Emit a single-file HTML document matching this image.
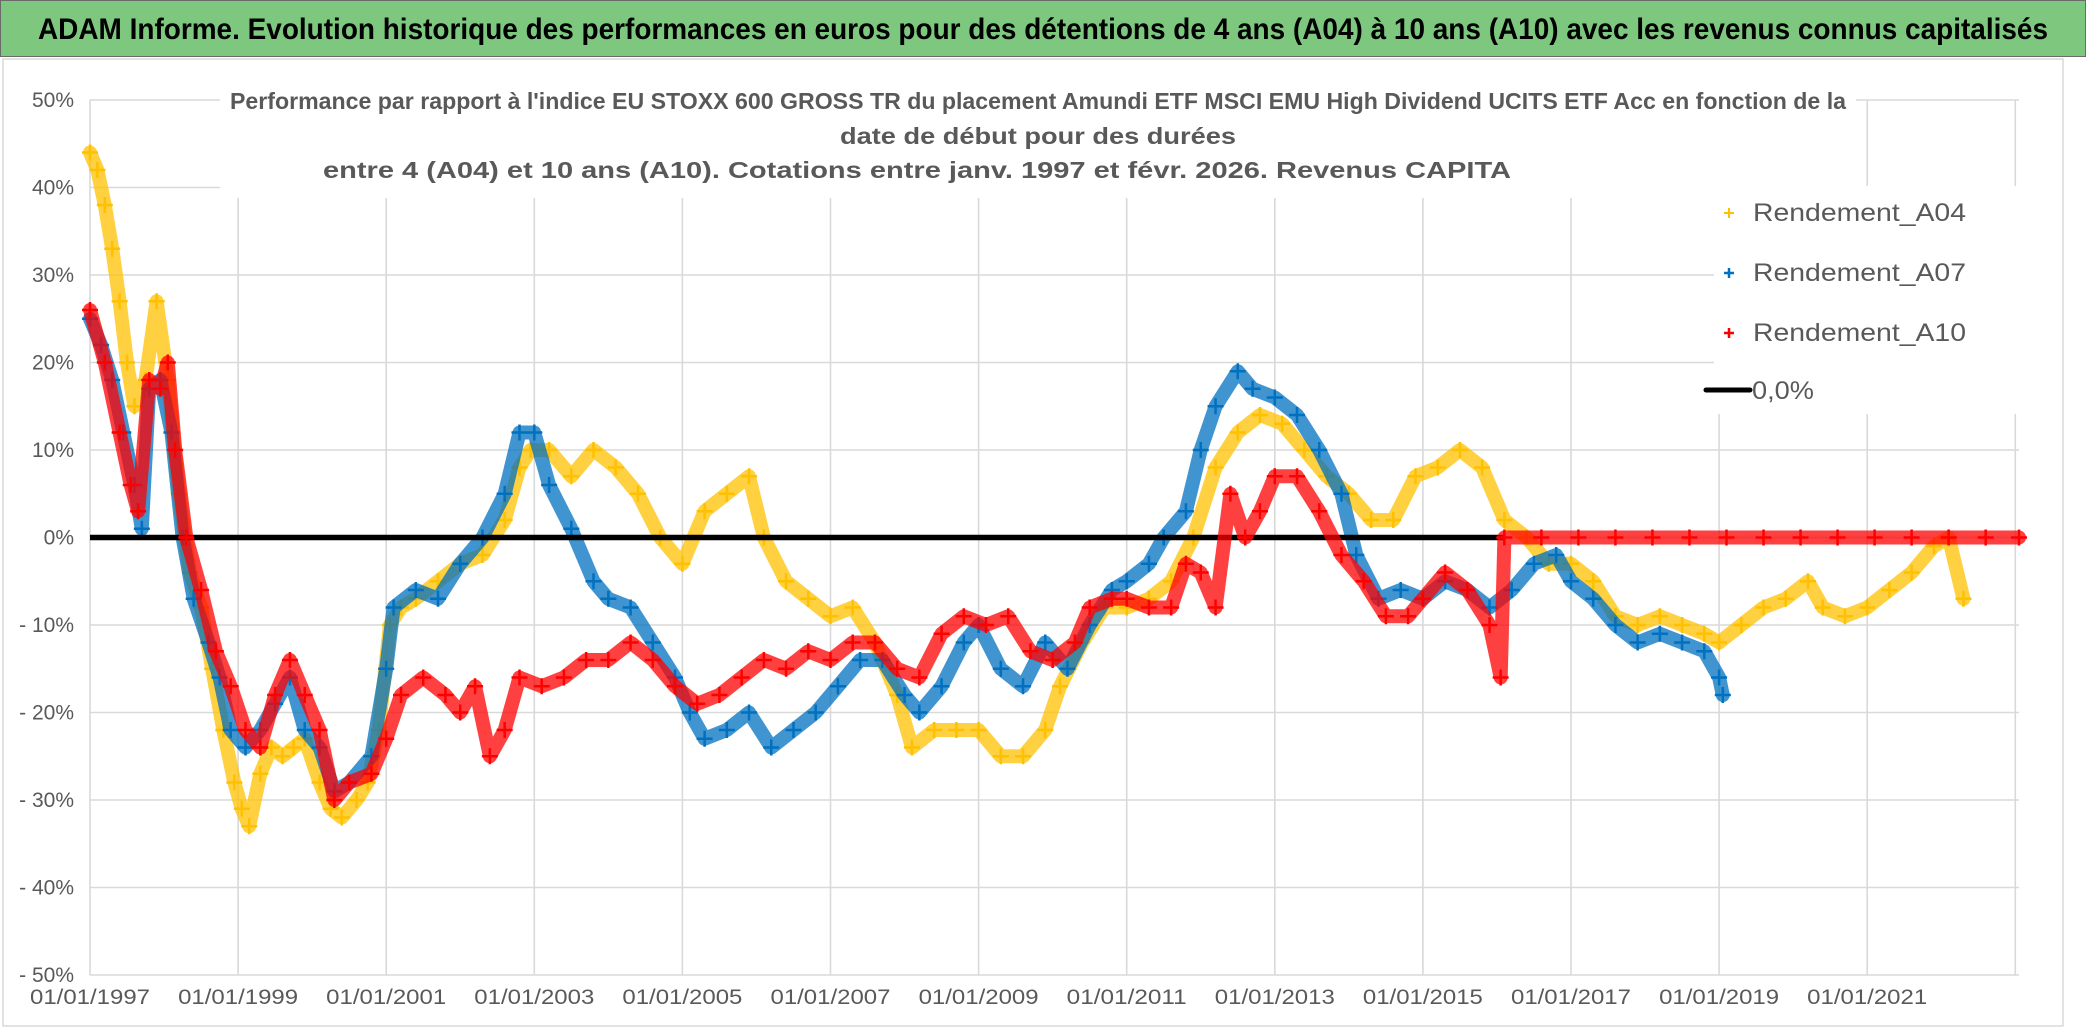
<!DOCTYPE html>
<html><head><meta charset="utf-8"><style>
html,body{margin:0;padding:0;background:#fff;}
svg{display:block;font-family:"Liberation Sans",sans-serif;}
</style></head><body>
<svg id="chart" width="2086" height="1031" viewBox="0 0 2086 1031">
<rect x="0" y="0" width="2086" height="1031" fill="#fff"/>
<rect x="0.5" y="0.5" width="2085" height="56" fill="#7DC87E" stroke="#6a6a6a" stroke-width="1"/>
<text x="1043" y="39" text-anchor="middle" font-size="30" font-weight="bold" fill="#000" textLength="2010" lengthAdjust="spacingAndGlyphs">ADAM Informe. Evolution historique des performances en euros pour des détentions de 4 ans (A04) à 10 ans (A10) avec les revenus connus capitalisés</text>
<rect x="3" y="59" width="2060" height="967" fill="none" stroke="#d9d9d9" stroke-width="1.5"/>
<g id="grid"></g>
<g id="yaxis"></g>
<g id="xaxis"></g>
<g id="series"></g>
<rect x="220" y="78" width="1636" height="120" fill="#fff"/>
<g fill="#595959" font-size="23" font-weight="bold" text-anchor="middle">
<text x="1038" y="109" textLength="1616" lengthAdjust="spacingAndGlyphs">Performance par rapport à l'indice EU STOXX 600 GROSS TR  du placement Amundi ETF MSCI EMU High Dividend UCITS ETF Acc en fonction de la</text>
<text x="1038" y="144" textLength="396" lengthAdjust="spacingAndGlyphs">date de début pour des durées</text>
<text x="917" y="178" textLength="1188" lengthAdjust="spacingAndGlyphs">entre 4 (A04) et 10 ans (A10). Cotations entre janv. 1997 et févr. 2026. Revenus CAPITA</text>
</g>
<g>
<rect x="1714" y="186" width="310" height="228" fill="#fff"/>
<g><path d="M1724 213h10M1729 208v10" stroke="#FFC000" stroke-width="2"/><text x="1753" y="221" font-size="25" fill="#595959" textLength="213" lengthAdjust="spacingAndGlyphs">Rendement_A04</text></g>
<g><path d="M1724 273h10M1729 268v10" stroke="#0070C0" stroke-width="2.5"/><text x="1753" y="281" font-size="25" fill="#595959" textLength="213" lengthAdjust="spacingAndGlyphs">Rendement_A07</text></g>
<g><path d="M1724 333h10M1729 328v10" stroke="#FF0000" stroke-width="2.5"/><text x="1753" y="341" font-size="25" fill="#595959" textLength="213" lengthAdjust="spacingAndGlyphs">Rendement_A10</text></g>
<g><path d="M1706 390h44" stroke="#000" stroke-width="5" stroke-linecap="round"/><text x="1752" y="399" font-size="25" fill="#595959" textLength="62" lengthAdjust="spacingAndGlyphs">0,0%</text></g>
</g>
</svg>
<script>
const yTicks=[50,40,30,20,10,0,-10,-20,-30,-40,-50];
const yTickLabels=["50%","40%","30%","20%","10%","0%","- 10%","- 20%","- 30%","- 40%","- 50%"];
const xTicks=[1997,1999,2001,2003,2005,2007,2009,2011,2013,2015,2017,2019,2021,2023];
const xTickLabels=["01/01/1997","01/01/1999","01/01/2001","01/01/2003","01/01/2005","01/01/2007","01/01/2009","01/01/2011","01/01/2013","01/01/2015","01/01/2017","01/01/2019","01/01/2021",""];
const a04Dates=[1997.0,1997.1,1997.2,1997.3,1997.4,1997.5,1997.6,1997.75,1997.9,1998.05,1998.2,1998.35,1998.5,1998.65,1998.8,1998.95,1999.05,1999.15,1999.3,1999.45,1999.6,1999.75,1999.9,2000.1,2000.25,2000.4,2000.6,2000.75,2000.9,2001.05,2001.2,2001.4,2001.7,2002.0,2002.3,2002.6,2002.8,2002.95,2003.2,2003.5,2003.8,2004.1,2004.4,2004.7,2005.0,2005.3,2005.6,2005.9,2006.1,2006.4,2006.7,2007.0,2007.3,2007.6,2007.9,2008.1,2008.4,2008.7,2009.0,2009.3,2009.6,2009.9,2010.1,2010.4,2010.7,2011.0,2011.3,2011.6,2011.9,2012.2,2012.5,2012.8,2013.1,2013.4,2013.7,2014.0,2014.3,2014.6,2014.9,2015.2,2015.5,2015.8,2016.1,2016.4,2016.7,2017.0,2017.3,2017.6,2017.9,2018.2,2018.5,2018.8,2019.0,2019.3,2019.6,2019.9,2020.2,2020.4,2020.7,2021.0,2021.3,2021.6,2021.9,2022.1,2022.3];
const a04Vals=[44,42,38,33,27,20,15,18,27,18,5,-4,-8,-15,-22,-28,-31,-33,-27,-24,-25,-24,-23,-28,-31,-32,-30,-28,-22,-10,-8,-7,-5,-3,-2,2,8,10,10,7,10,8,5,0,-3,3,5,7,0,-5,-7,-9,-8,-12,-18,-24,-22,-22,-22,-25,-25,-22,-17,-12,-8,-8,-7,-5,0,8,12,14,13,10,7,5,2,2,7,8,10,8,2,0,-3,-3,-5,-9,-10,-9,-10,-11,-12,-10,-8,-7,-5,-8,-9,-8,-6,-4,-1,0,-7];
const a07Dates=[1997.0,1997.15,1997.3,1997.45,1997.6,1997.7,1997.8,1997.95,1998.1,1998.25,1998.4,1998.6,1998.75,1998.9,1999.1,1999.3,1999.5,1999.7,1999.9,2000.1,2000.3,2000.5,2000.8,2001.0,2001.1,2001.4,2001.7,2002.0,2002.3,2002.6,2002.8,2003.0,2003.2,2003.5,2003.8,2004.0,2004.3,2004.6,2004.9,2005.1,2005.3,2005.6,2005.9,2006.2,2006.5,2006.8,2007.1,2007.4,2007.7,2008.0,2008.2,2008.5,2008.8,2009.0,2009.3,2009.6,2009.9,2010.2,2010.5,2010.8,2011.0,2011.3,2011.5,2011.8,2012.0,2012.2,2012.5,2012.7,2013.0,2013.3,2013.6,2013.9,2014.1,2014.4,2014.7,2015.0,2015.3,2015.6,2015.9,2016.2,2016.5,2016.8,2017.0,2017.3,2017.6,2017.9,2018.2,2018.5,2018.8,2019.0,2019.05];
const a07Vals=[25,22,18,12,6,1,17,18,12,0,-7,-12,-16,-22,-24,-22,-19,-16,-22,-24,-29,-28,-25,-15,-8,-6,-7,-3,0,5,12,12,6,1,-5,-7,-8,-12,-16,-20,-23,-22,-20,-24,-22,-20,-17,-14,-14,-18,-20,-17,-12,-10,-15,-17,-12,-15,-10,-6,-5,-3,0,3,10,15,19,17,16,14,10,5,-2,-7,-6,-7,-5,-6,-8,-6,-3,-2,-5,-7,-10,-12,-11,-12,-13,-16,-18];
const a10Dates=[1997.0,1997.2,1997.4,1997.55,1997.65,1997.8,1997.95,1998.05,1998.15,1998.3,1998.5,1998.7,1998.9,1999.1,1999.3,1999.5,1999.7,1999.9,2000.1,2000.3,2000.5,2000.8,2001.0,2001.2,2001.5,2001.8,2002.0,2002.2,2002.4,2002.6,2002.8,2003.1,2003.4,2003.7,2004.0,2004.3,2004.6,2004.9,2005.2,2005.5,2005.8,2006.1,2006.4,2006.7,2007.0,2007.3,2007.6,2007.9,2008.2,2008.5,2008.8,2009.1,2009.4,2009.7,2010.0,2010.3,2010.5,2010.8,2011.0,2011.3,2011.6,2011.8,2012.0,2012.2,2012.4,2012.6,2012.8,2013.0,2013.3,2013.6,2013.9,2014.2,2014.5,2014.8,2015.0,2015.3,2015.6,2015.9,2016.05,2016.1,2016.6,2017.1,2017.6,2018.1,2018.6,2019.1,2019.6,2020.1,2020.6,2021.1,2021.6,2022.1,2022.6,2023.05];
const a10Vals=[26,20,12,6,3,18,17,20,10,0,-6,-13,-17,-22,-24,-18,-14,-18,-22,-30,-28,-27,-23,-18,-16,-18,-20,-17,-25,-22,-16,-17,-16,-14,-14,-12,-14,-17,-19,-18,-16,-14,-15,-13,-14,-12,-12,-15,-16,-11,-9,-10,-9,-13,-14,-12,-8,-7,-7,-8,-8,-3,-4,-8,5,0,3,7,7,3,-2,-5,-9,-9,-7,-4,-6,-10,-16,0,0,0,0,0,0,0,0,0,0,0,0,0,0,0];
const zeroDates=[1997.0,2016.1];
const zeroVals=[0,0];

const X0=90,X1=2019,XMIN=1997,XMAX=2023.05,Y0=100,Y1=975,VMAX=50,VMIN=-50;
const NS="http://www.w3.org/2000/svg";
function xs(t){return X0+(t-XMIN)/(XMAX-XMIN)*(X1-X0);}
function ys(v){return Y0+(VMAX-v)/(VMAX-VMIN)*(Y1-Y0);}
function mk(tag,attrs,parent){const e=document.createElementNS(NS,tag);for(const k in attrs)e.setAttribute(k,attrs[k]);parent.appendChild(e);return e;}
const grid=document.getElementById('grid'),yax=document.getElementById('yaxis'),xax=document.getElementById('xaxis'),ser=document.getElementById('series');
yTicks.forEach((v,i)=>{
  const l=mk('line',{x1:X0,x2:X1,y1:ys(v),y2:ys(v),stroke:'#d9d9d9','stroke-width':1.6},grid);
  
  
  const t=mk('text',{x:74,y:ys(v)+7,'text-anchor':'end','font-size':21,fill:'#595959'},yax);
  
  
  t.textContent=yTickLabels[i];
});
xTicks.forEach((t0,i)=>{
  const l=mk('line',{x1:xs(t0),x2:xs(t0),y1:Y0,y2:Y1,stroke:'#d9d9d9','stroke-width':1.6},grid);
  
  
  const t=mk('text',{x:xs(t0),y:1004,'text-anchor':'middle','font-size':21,fill:'#595959',textLength:120,lengthAdjust:'spacingAndGlyphs'},xax);
  
  
  t.textContent=xTickLabels[i];
});
function drawSeries(dates,vals,color,name,sw){
  const g=mk('g',{},ser);
  
  
  const pts=dates.map((d,i)=>xs(d).toFixed(1)+','+ys(vals[i]).toFixed(1)).join(' ');
  const pl=mk('polyline',{points:pts,fill:'none',stroke:color,'stroke-width':sw,'stroke-linejoin':'round','stroke-linecap':'round','stroke-opacity':0.75},g);
  
  
  let d='';
  dates.forEach((t,i)=>{const x=xs(t),y=ys(vals[i]);d+=`M${x-8} ${y}h16M${x} ${y-8}v16`;});
  const p=mk('path',{d:d,stroke:color,'stroke-width':2.5,fill:'none'},g);
  
  
}
drawSeries(a04Dates,a04Vals,'#FFC000','series-a04',14);
drawSeries(a07Dates,a07Vals,'#0070C0','series-a07',14);
const zl=mk('line',{x1:xs(zeroDates[0]),x2:xs(zeroDates[1]),y1:ys(zeroVals[0]),y2:ys(zeroVals[1]),stroke:'#000','stroke-width':5.5},ser);


drawSeries(a10Dates,a10Vals,'#FF0000','series-a10',14);
</script>
</body></html>
